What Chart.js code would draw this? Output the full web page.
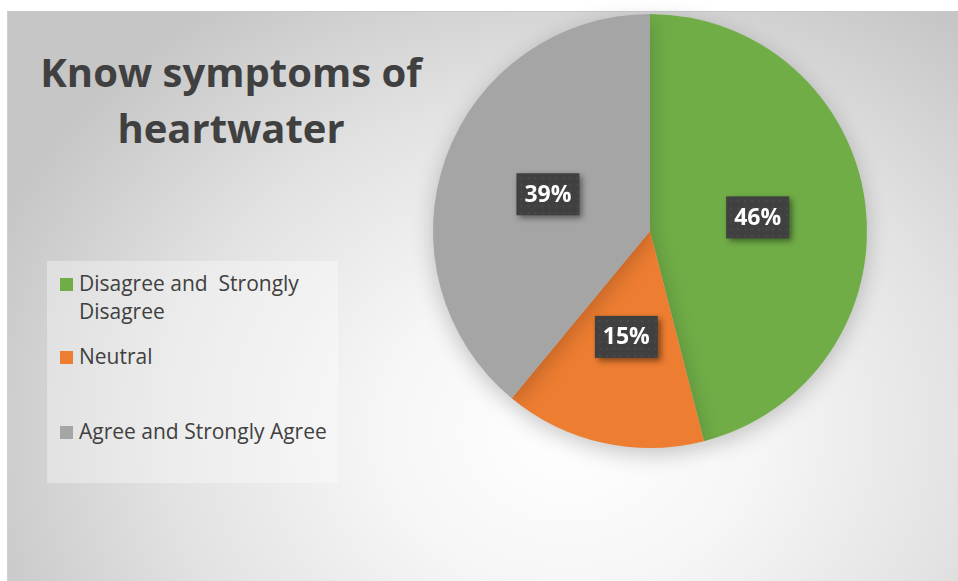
<!DOCTYPE html>
<html><head><meta charset="utf-8">
<script src="https://cdn.jsdelivr.net/npm/chart.js@4/dist/chart.umd.min.js"></script>
<style>
html,body{margin:0;padding:0;background:#fff;width:958px;height:581px;overflow:hidden;}
#bg{position:absolute;left:7px;top:11px;width:951px;height:570px;box-sizing:border-box;border-top:1px solid #c8c8c8;border-left:1px solid #d0d0d0;
background:radial-gradient(ellipse 620px 520px at 560px 420px,#ffffff 0%,#f6f6f6 30%,#e2e2e2 65%,#c6c6c6 100%);}
#title{position:absolute;left:21px;top:44px;width:420px;text-align:center;font-family:"Open Sans",sans-serif;font-weight:700;font-size:40px;line-height:56px;color:#404040;}
#legendbox{position:absolute;left:47px;top:261px;width:291px;height:222px;background:rgba(255,255,255,0.35);}
.li{position:absolute;left:60px;font-family:"Open Sans",sans-serif;font-size:21px;line-height:28px;color:#404040;}
.sw{position:absolute;left:0;top:8px;width:13px;height:13px;}
.tx{position:absolute;left:19px;top:-1px;white-space:nowrap;}
canvas{position:absolute;left:0;top:0;}
</style></head>
<body>
<div id="bg"></div>
<div id="title">Know symptoms of<br>heartwater</div>
<div id="legendbox"></div>
<div id="legend"></div>
<canvas id="c" width="958" height="581"></canvas>
<script>
const categories = ["Disagree and  Strongly\nDisagree", "Neutral", "Agree and Strongly Agree"];
const values = [46, 15, 39];
const colors = ["#70AD47", "#ED7D31", "#A5A5A5"];
const legendTops = [270, 343, 418];

// legend
const lg = document.getElementById('legend');
categories.forEach((c, i) => {
  const d = document.createElement('div');
  d.className = 'li';
  d.style.top = legendTops[i] + 'px';
  const sw = document.createElement('div'); sw.className = 'sw'; sw.style.background = colors[i];
  const tx = document.createElement('div'); tx.className = 'tx';
  tx.innerHTML = c.replace(/  /g, ' &nbsp;').replace('\n', '<br>');
  d.appendChild(sw); d.appendChild(tx); lg.appendChild(d);
});

const shadowPlugin = {
  id: 'shadow',
  beforeDatasetDraw(chart) {
    const ctx = chart.ctx; ctx.save();
    ctx.shadowColor = 'rgba(0,0,0,0.22)'; ctx.shadowBlur = 22; ctx.shadowOffsetX = 0; ctx.shadowOffsetY = 6;
  },
  afterDatasetDraw(chart) { chart.ctx.restore(); }
};
const labelPlugin = {
  id: 'boxlabels',
  afterDatasetsDraw(chart) {
    const ctx = chart.ctx;
    const meta = chart.getDatasetMeta(0);
    meta.data.forEach((arc, i) => {
      const p = arc.tooltipPosition();
      const w = 63, h = 42;
      const x = p.x - w / 2, y = p.y - h / 2;
      ctx.save();
      ctx.shadowColor = 'rgba(0,0,0,0.45)'; ctx.shadowBlur = 6; ctx.shadowOffsetX = 3; ctx.shadowOffsetY = 3;
      ctx.fillStyle = '#404040';
      ctx.fillRect(x, y, w, h);
      ctx.restore();
      ctx.save();
      ctx.fillStyle = 'rgba(255,255,255,0.06)';
      for (let yy = y + 4; yy < y + h; yy += 7) for (let xx = x + 4; xx < x + w; xx += 7) { ctx.fillRect(xx, yy, 2, 2); }
      ctx.fillStyle = '#ffffff';
      ctx.font = 'bold 23px "Open Sans", sans-serif';
      ctx.textAlign = 'center'; ctx.textBaseline = 'middle';
      ctx.fillText(values[i] + '%', p.x, p.y + 1);
      ctx.restore();
    });
  }
};

new Chart(document.getElementById('c'), {
  type: 'pie',
  data: { labels: categories, datasets: [{ data: values, backgroundColor: colors, borderWidth: 0 }] },
  options: {
    responsive: false, animation: false,
    layout: { padding: { left: 433, right: 91, top: 14, bottom: 133 } },
    plugins: { legend: { display: false }, tooltip: { enabled: false }, title: { display: false } }
  },
  plugins: [shadowPlugin, labelPlugin]
});
</script>
</body></html>
